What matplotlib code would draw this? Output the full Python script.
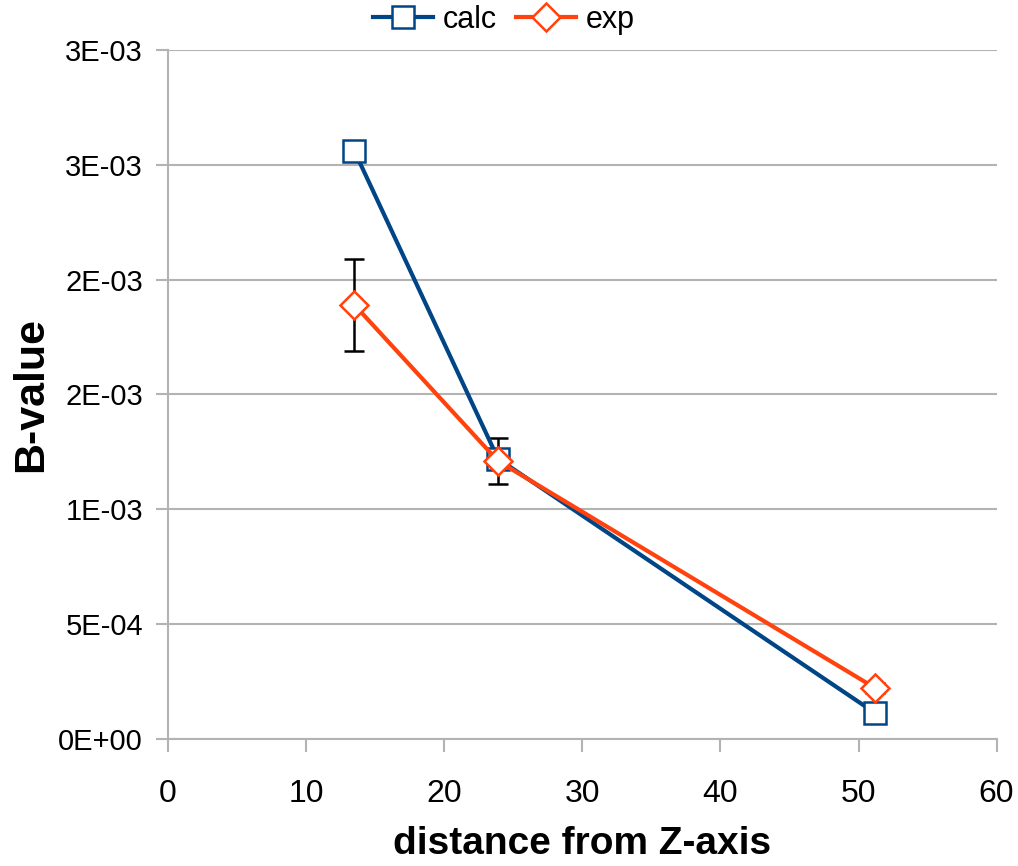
import numpy as np
import matplotlib.pyplot as plt

# datos
x_vals = [13.5, 23.9, 51.2]
calc_vals = [0.00256, 0.00122, 0.000113]
exp_vals = [0.00189, 0.00121, 0.000222]
exp_err = [0.0002, 0.0001, 0.00002]
y_ticks = [0, 0.0005, 0.001, 0.0015, 0.002, 0.0025, 0.003]
y_tick_labels = ["0E+00", "5E-04", "1E-03", "2E-03", "2E-03", "3E-03", "3E-03"]
x_ticks = [0, 10, 20, 30, 40, 50, 60]

plt.rcParams['font.family'] = ['Liberation Sans', 'DejaVu Sans']

blue = '#004586'
orange = '#ff420e'
grid_c = '#b3b3b3'

fig = plt.figure(figsize=(10.18, 8.66), dpi=100)
ax = fig.add_axes([0.165, 0.1467, 0.814, 0.7956])

ax.errorbar(x_vals, exp_vals, yerr=exp_err, fmt='none', ecolor='black',
            elinewidth=1.8, capsize=7, capthick=1.8, zorder=3)
ax.plot(x_vals, calc_vals, color=blue, lw=3, marker='s', ms=16,
        mfc='white', mec=blue, mew=1.8, label='calc', zorder=4)
ax.plot(x_vals, exp_vals, color=orange, lw=3, marker='D', ms=14,
        mfc='white', mec=orange, mew=1.8, label='exp', zorder=5)

ax.set_xlim(0, 60)
ax.set_ylim(0, 0.003)
ax.set_xticks(x_ticks)
ax.set_xticklabels([str(v) for v in x_ticks], fontsize=23)
ax.set_yticks(y_ticks)
ax.set_yticklabels(y_tick_labels, fontsize=21)

ax.grid(axis='y', color=grid_c, lw=1.5)
ax.set_axisbelow(True)
for s in ['top', 'right']:
    ax.spines[s].set_visible(False)
for s in ['left', 'bottom']:
    ax.spines[s].set_color(grid_c)
    ax.spines[s].set_linewidth(1.5)
ax.tick_params(axis='both', color=grid_c, width=1.5, length=9, direction='out')
ax.tick_params(axis='x', pad=20)
ax.tick_params(axis='y', pad=9)

ax.set_xlabel("distance from Z-axis", fontsize=28, fontweight='bold', labelpad=12)
ax.set_ylabel("B-value", fontsize=31, fontweight='bold', labelpad=5)

fig.legend(loc='center', bbox_to_anchor=(0.495, 0.977), ncol=2, frameon=False,
           fontsize=22, handlelength=1.96, columnspacing=0.65, handletextpad=0.3)

fig.savefig("out.png", dpi=100)
